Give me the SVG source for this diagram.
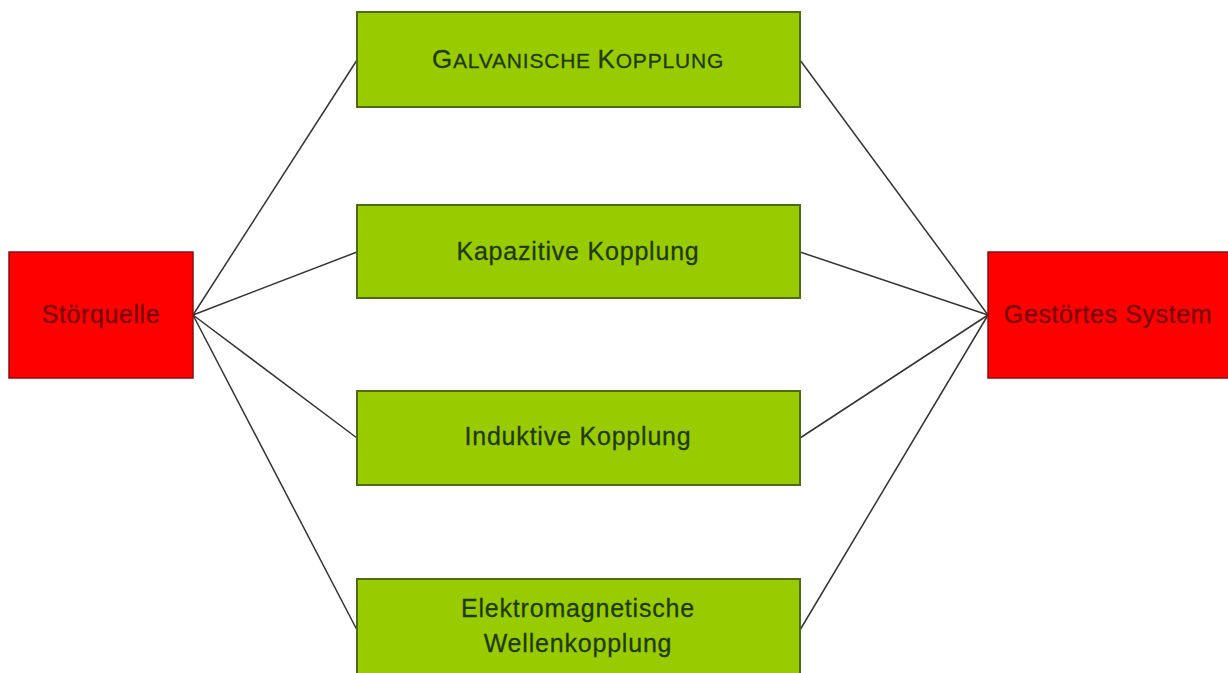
<svg xmlns="http://www.w3.org/2000/svg" width="1228" height="673" viewBox="0 0 1228 673">
<style>
.g{fill:#99cc00;stroke:#4f6b12;stroke-width:2}
.r{fill:#ff0000;stroke:#8a1010;stroke-width:1.5}
.tg{font-family:"Liberation Sans",Arial,sans-serif;font-size:25px;fill:#1f3a05;stroke:#1f3a05;stroke-width:0.3;text-anchor:middle;letter-spacing:0.8px}
.tr{font-family:"Liberation Sans",Arial,sans-serif;font-size:25px;fill:#7a0000;stroke:#7a0000;stroke-width:0.3;text-anchor:middle;letter-spacing:0.6px}
.c{stroke:#333;stroke-width:1.5;fill:none}
</style>
<rect width="1228" height="673" fill="#fff"/>
<g id="connectors">
<line class="c" x1="193" y1="315" x2="357" y2="60"/>
<line class="c" x1="193" y1="315" x2="357" y2="252"/>
<line class="c" x1="193" y1="315" x2="357" y2="438"/>
<line class="c" x1="193" y1="315" x2="357" y2="630"/>
<line class="c" x1="800" y1="60" x2="988" y2="315"/>
<line class="c" x1="800" y1="252" x2="988" y2="315"/>
<line class="c" x1="800" y1="438" x2="988" y2="315"/>
<line class="c" x1="800" y1="630" x2="988" y2="315"/>
</g>
<g id="stoerquelle"><rect class="r" x="9" y="252" width="184" height="126"/><text class="tr" x="101" y="323">Störquelle</text></g>
<g id="gestoertes"><rect class="r" x="988" y="252" width="245" height="126"/><text class="tr" x="1108" y="323">Gestörtes System</text></g>
<g id="galvanisch"><rect class="g" x="357" y="12" width="443" height="95"/><text class="tg" x="578" y="68"><tspan font-size="26">G</tspan><tspan font-size="21">ALVANISCHE </tspan><tspan font-size="26">K</tspan><tspan font-size="21">OPPLUNG</tspan></text></g>
<g id="kapazitiv"><rect class="g" x="357" y="205" width="443" height="93"/><text class="tg" x="578" y="260">Kapazitive Kopplung</text></g>
<g id="induktiv"><rect class="g" x="357" y="391" width="443" height="94"/><text class="tg" x="578" y="445">Induktive Kopplung</text></g>
<g id="elektromagnetisch"><rect class="g" x="357" y="579" width="443" height="104"/><text class="tg" x="578" y="617">Elektromagnetische</text><text class="tg" x="578" y="652">Wellenkopplung</text></g>
</svg>
